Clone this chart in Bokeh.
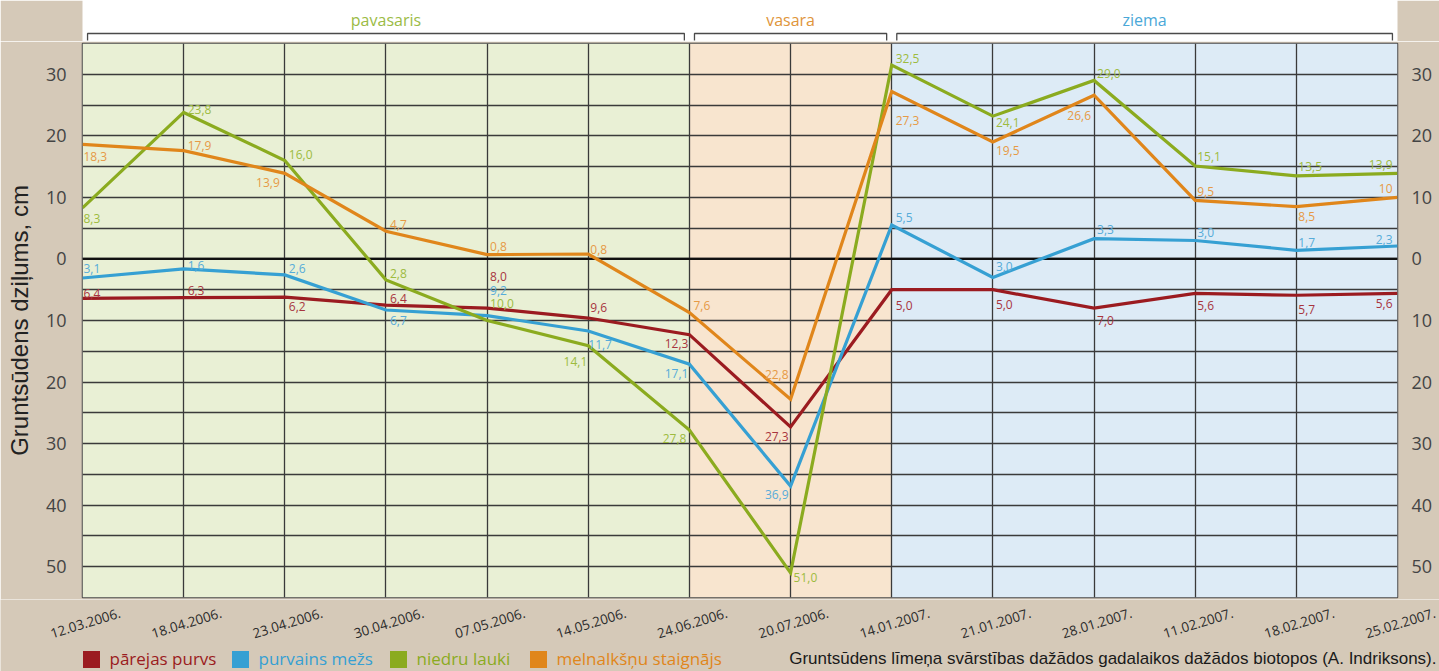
import math
from bokeh.plotting import figure
from bokeh.models import ColumnDataSource, Range1d, FixedTicker, LinearAxis, Span
from bokeh.layouts import column, row
from bokeh.embed import file_html
from bokeh.resources import INLINE
from bokeh.core.properties import value

# ---------------- data ----------------
dates = ["12.03.2006.", "18.04.2006.", "23.04.2006.", "30.04.2006.", "07.05.2006.",
         "14.05.2006.", "24.06.2006.", "20.07.2006.", "14.01.2007.", "21.01.2007.",
         "28.01.2007.", "11.02.2007.", "18.02.2007.", "25.02.2007."]

series_names = ["pārejas purvs", "purvains mežs", "niedru lauki", "melnalkšņu staignājs"]

# water level (cm), positive = above 0 line, negative = below
parejas_purvs = [-6.4, -6.3, -6.2, -7.5, -8.0, -9.6, -12.3, -27.3, -5.0, -5.0, -8.0, -5.6, -5.9, -5.6]
purvains_mezs = [-3.1, -1.6, -2.6, -8.3, -9.2, -11.7, -17.1, -36.9, 5.5, -3.0, 3.3, 3.0, 1.4, 2.1]
niedru_lauki = [8.3, 23.8, 16.0, -3.4, -10.0, -14.1, -27.8, -51.0, 31.5, 23.2, 29.0, 15.1, 13.5, 13.9]
melnalksnu_staignajs = [18.6, 17.6, 13.9, 4.5, 0.7, 0.8, -8.7, -22.8, 27.2, 19.0, 26.6, 9.5, 8.5, 10.0]

# printed value labels
parejas_purvs_labels = ["6,4", "6,3", "6,2", "6,4", "8,0", "9,6", "12,3", "27,3", "5,0", "5,0", "7,0", "5,6", "5,7", "5,6"]
purvains_mezs_labels = ["3,1", "1,6", "2,6", "6,7", "9,2", "11,7", "17,1", "36,9", "5,5", "3,0", "3,3", "3,0", "1,7", "2,3"]
niedru_lauki_labels = ["8,3", "23,8", "16,0", "2,8", "10,0", "14,1", "27,8", "51,0", "32,5", "24,1", "29,0", "15,1", "13,5", "13,9"]
melnalksnu_staignajs_labels = ["18,3", "17,9", "13,9", "4,7", "0,8", "0,8", "7,6", "22,8", "27,3", "19,5", "26,6", "9,5", "8,5", "10"]

seasons = ["pavasaris", "vasara", "ziema"]
season_start = [0, 6, 8]
season_end = [6, 8, 13]

y_ticks = [-50, -40, -30, -20, -10, 0, 10, 20, 30]
y_grid = [-50, -45, -40, -35, -30, -25, -20, -15, -10, -5, 0, 5, 10, 15, 20, 25, 30]

caption = "Gruntsūdens līmeņa svārstības dažādos gadalaikos dažādos biotopos (A. Indriksons)."

# ---------------- styles ----------------
BG = "#d5c9b8"
W = 1439
FL, FR = 82, 42
line_colors = ["#9b1b20", "#36a0d3", "#8bab1f", "#e0861b"]
label_colors = ["#a8353e", "#57acd9", "#9dbb3e", "#e69a45"]
season_fill = ["#e9f0d5", "#f8e5cf", "#ddebf6"]
season_text = ["#9bbb45", "#e0953a", "#4aa8d8"]

# label offsets (dx, dy in px, align)
L, R = "left", "right"
offsets = [
    [(1, -5, L), (4, -7, L), (4, 9, L), (4, -7, L), (3, -32, L), (2, -11, L), (-1, 9, R),
     (-2, 10, R), (4, 16, L), (3, 15, L), (3, 12, L), (2, 12, L), (2, 14, L), (-5, 10, R)],
    [(1, -10, L), (4, -3, L), (4, -6, L), (4, 10, L), (3, -25, L), (0, 14, L), (-1, 9, R),
     (-2, 8, R), (4, -8, L), (3, -11, L), (3, -9, L), (2, -8, L), (2, -8, L), (-5, -7, R)],
    [(1, 11, L), (4, -3, L), (4, -6, L), (4, -6, L), (3, -17, L), (-1, 16, R), (-3, 8, R),
     (3, 5, L), (4, -7, L), (3, 6, L), (3, -7, L), (2, -9, L), (2, -9, L), (-5, -9, R)],
    [(1, 12, L), (4, -5, L), (-5, 9, R), (4, -7, L), (3, -8, L), (2, -5, L), (4, -7, L),
     (-2, -25, R), (4, 29, L), (3, 9, L), (-3, 20, R), (2, -9, L), (2, 10, L), (-5, -9, R)],
]

all_values = [parejas_purvs, purvains_mezs, niedru_lauki, melnalksnu_staignajs]
all_labels = [parejas_purvs_labels, purvains_mezs_labels, niedru_lauki_labels, melnalksnu_staignajs_labels]

xs = list(range(len(dates)))
N = len(dates) - 1
xr = Range1d(0, N)
yr = Range1d(-55, 35)
PPU = (W - FL - FR) / N  # pixels per date step

# ---------------- top strip (season brackets) ----------------
TOP_H = 41
top = figure(width=W, height=TOP_H, x_range=xr, y_range=Range1d(0, TOP_H),
             x_axis_type=None, y_axis_type=None, toolbar_location=None,
             output_backend="svg", min_border_left=FL, min_border_right=FR,
             min_border_top=0, min_border_bottom=0, border_fill_color=BG,
             background_fill_color=None, outline_line_color=None)
top.grid.visible = False
bx, by = [], []
for s, e in zip(season_start, season_end):
    bx.append([s + 0.05, s + 0.05, e - 0.05, e - 0.05])
    by.append([1, 8, 8, 1])
top.multi_line(bx, by, line_color="#4a4a4a", line_width=1.3)
top.text(x=[(s + e) / 2 for s, e in zip(season_start, season_end)], y=[22] * 3, text=seasons,
         text_color=season_text, text_align="center", text_baseline="middle",
         text_font=value("Open Sans"), text_font_size="16px")

# ---------------- main plot ----------------
p = figure(width=W, height=2 + 554 + 2, x_range=xr, y_range=yr,
           x_axis_location=None, toolbar_location=None, output_backend="svg",
           min_border_left=FL, min_border_right=FR, min_border_top=2, min_border_bottom=2,
           border_fill_color=BG, background_fill_color=None,
           outline_line_color="#4a4a4a", outline_line_width=1.5)

p.quad(left=season_start, right=season_end, bottom=yr.start, top=yr.end,
       fill_color=season_fill, line_color=None, level="image")

p.xgrid.ticker = FixedTicker(ticks=xs)
p.ygrid.ticker = FixedTicker(ticks=y_grid)
for g in (p.xgrid, p.ygrid):
    g.grid_line_color = "#3a3a3a"
    g.grid_line_width = 1.3

p.add_layout(Span(location=0, dimension="width", line_color="#111111", line_width=2.2, level="underlay"))

overrides = {t: str(abs(t)) for t in y_ticks}


def style_y(ax, standoff):
    ax.ticker = FixedTicker(ticks=y_ticks)
    ax.major_label_overrides = overrides
    ax.axis_line_color = None
    ax.major_tick_line_color = None
    ax.minor_tick_line_color = None
    ax.major_label_text_font = "Open Sans"
    ax.major_label_text_font_size = "18px"
    ax.major_label_text_color = "#444444"
    ax.major_label_standoff = standoff


style_y(p.yaxis[0], 10)
p.yaxis[0].axis_label = "Gruntsūdens dziļums, cm"
p.yaxis[0].axis_label_text_font = "Liberation Sans"
p.yaxis[0].axis_label_text_font_size = "24px"
p.yaxis[0].axis_label_text_font_style = "normal"
p.yaxis[0].axis_label_text_color = "#222222"
p.yaxis[0].axis_label_standoff = 10

ry = LinearAxis()
style_y(ry, 8)
p.add_layout(ry, "right")

for vals, col in zip(all_values, line_colors):
    p.line(xs, vals, line_color=col, line_width=3.2, line_join="miter")

for vals, labs, offs, col in zip(all_values, all_labels, offsets, label_colors):
    for align in (L, R):
        idx = [i for i in xs if offs[i][2] == align]
        src = ColumnDataSource(dict(
            x=[xs[i] for i in idx], y=[vals[i] for i in idx], t=[labs[i] for i in idx],
            dx=[offs[i][0] for i in idx], dy=[offs[i][1] for i in idx]))
        p.text(x="x", y="y", text="t", x_offset="dx", y_offset="dy", source=src,
               text_align=align, text_baseline="middle", text_color=col,
               text_font=value("Open Sans"), text_font_size="12px")

# ---------------- bottom strip: date labels + legend + caption ----------------
BOT_H = 72
bot = figure(width=W, height=BOT_H, x_range=Range1d(0, W), y_range=Range1d(0, BOT_H),
             x_axis_type=None, y_axis_type=None, toolbar_location=None,
             output_backend="svg", min_border=0, border_fill_color=BG,
             background_fill_color=BG, outline_line_color=None)
bot.grid.visible = False
# same horizontal scale as the main plot's x axis
bot.extra_x_ranges = {"dates": Range1d(-FL / PPU, (W - FL) / PPU)}
bot.text(x=xs, y=[48] * len(xs), text=dates, x_range_name="dates", x_offset=3,
         angle=17, angle_units="deg", text_align="center", text_baseline="middle",
         text_color="#2b2b2b", text_font=value("Open Sans"), text_font_size="13.5px")

legend_x = [91, 240, 398, 538]
bot.rect(x=legend_x, y=[12] * 4, width=17, height=17, fill_color=line_colors, line_color=None)
bot.text(x=[lx + 18 for lx in legend_x], y=[13] * 4, text=series_names, text_color=line_colors,
         text_align="left", text_baseline="middle", text_font=value("Open Sans"), text_font_size="17px")
bot.text(x=[1436], y=[13], text=[caption],
         text_color="#1a1a1a", text_align="right", text_baseline="middle",
         text_font=value("Liberation Sans"), text_font_size="17px")

layout = column(top, p, row(bot), spacing=0)
open("out.html", "w").write(file_html(layout, INLINE))
